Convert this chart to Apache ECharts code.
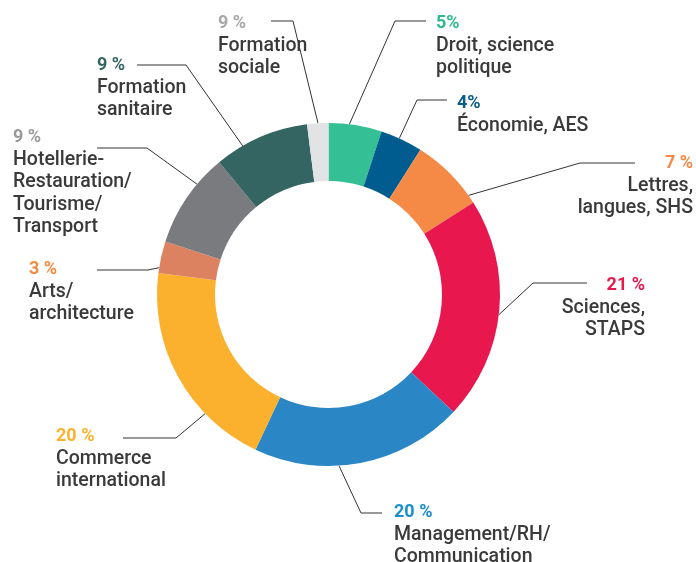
<!DOCTYPE html>
<html>
<head>
<meta charset="utf-8">
<script src="https://cdn.jsdelivr.net/npm/echarts@6/dist/echarts.min.js"></script>
<style>
    html, body { margin: 0; padding: 0; background: #fff; }
    #chart { width: 696px; height: 562px; }
</style>
</head>
<body>
<div id="chart"></div>
<script>
// slices clockwise from 12 o'clock, sizes
const names = ['Droit, science politique', 'Économie, AES', 'Lettres, langues, SHS', 'Sciences, STAPS',
    'Management/RH/Communication', 'Commerce international', 'Arts/architecture',
    'Hotellerie-Restauration/Tourisme/Transport', 'Formation sanitaire', 'Formation sociale'];
const values = [5, 4, 7, 21, 20, 20, 3, 9, 9, 2];
const pctLabels = ['5%', '4%', '7 %', '21 %', '20 %', '20 %', '3 %', '9 %', '9 %', '9 %'];
const nameLines = [
    ['Droit, science', 'politique'],
    ['Économie, AES'],
    ['Lettres,', 'langues, SHS'],
    ['Sciences,', 'STAPS'],
    ['Management/RH/', 'Communication'],
    ['Commerce', 'international'],
    ['Arts/', 'architecture'],
    ['Hotellerie-', 'Restauration/', 'Tourisme/', 'Transport'],
    ['Formation', 'sanitaire'],
    ['Formation', 'sociale']
];

const sliceColors = ['#34bf94', '#005b8f', '#f58a47', '#e8184f', '#2b86c5', '#fbb12d', '#dc8261', '#7a7b7e', '#346563', '#e1e3e5'];
const pctColors = ['#2dba8c', '#0b5b8c', '#f58a47', '#e8184f', '#1a8fd0', '#fbb12d', '#f5893f', '#9a9a9a', '#346563', '#a8a8a8'];

const CX = 328.5, CY = 294.5, R0 = 113.5, R = 171.5;

// where each label sits: text anchor, bend of the leader line, end of the leader line
const labelPlace = [
    { x: 436, y: 12, align: 'left', anchor: 7, bend: [395, 21], end: 426 },
    { x: 457, y: 92, align: 'left', anchor: 24.4, bend: [417, 100], end: 447 },
    { x: 693, y: 152, align: 'right', anchor: 54.7, bend: [580, 163], end: 635 },
    { x: 645, y: 274, align: 'right', anchor: 96.8, bend: [533, 283], end: 587 },
    { x: 394, y: 501, align: 'left', anchor: 176.5, bend: [361, 513], end: 382 },
    { x: 56, y: 425, align: 'left', anchor: 226, bend: [176, 438], end: 123 },
    { x: 29, y: 258, align: 'left', anchor: 279, bend: [148, 270], end: 97 },
    { x: 13, y: 126, align: 'left', anchor: 310, bend: [147, 148], end: 97 },
    { x: 97, y: 54, align: 'left', anchor: 330, bend: [186, 65], end: 137 },
    { x: 218, y: 12, align: 'left', anchor: 356.5, bend: [293, 21], end: 271 }
];

const FONT = 'Roboto, "Liberation Sans", sans-serif';

const data = names.map((name, i) => ({
    name,
    value: values[i],
    itemStyle: { color: sliceColors[i] },
    label: {
        formatter: () => ['{p|' + pctLabels[i] + '}'].concat(nameLines[i].map(l => '{n|' + l + '}')).join('\n'),
        rich: {
            p: {
                color: pctColors[i],
                fontFamily: FONT,
                fontWeight: 'bold',
                fontSize: 18,
                lineHeight: 22.5,
                align: labelPlace[i].align
            },
            n: {
                color: '#3a3a3a',
                fontFamily: FONT,
                fontWeight: 500,
                fontSize: 19.5,
                lineHeight: 22.5,
                align: labelPlace[i].align
            }
        }
    }
}));

const chart = echarts.init(document.getElementById('chart'));
chart.setOption({
    backgroundColor: '#fff',
    animation: false,
    series: [
        {
            type: 'pie',
            center: [CX, CY],
            radius: [R0, R],
            startAngle: 90,
            clockwise: true,
            avoidLabelOverlap: false,
            label: { show: true, position: 'outside' },
            labelLine: {
                show: true,
                length: 10,
                length2: 10,
                lineStyle: { color: '#333', width: 1 }
            },
            labelLayout: function (params) {
                const p = labelPlace[params.dataIndex];
                const a = p.anchor * Math.PI / 180;
                const start = [CX + R * Math.sin(a), CY - R * Math.cos(a)];
                return {
                    x: p.x,
                    y: p.y,
                    align: p.align,
                    verticalAlign: 'top',
                    labelLinePoints: [start, p.bend, [p.end, p.bend[1]]]
                };
            },
            emphasis: { disabled: true },
            data
        }
    ]
});
</script>
</body>
</html>
